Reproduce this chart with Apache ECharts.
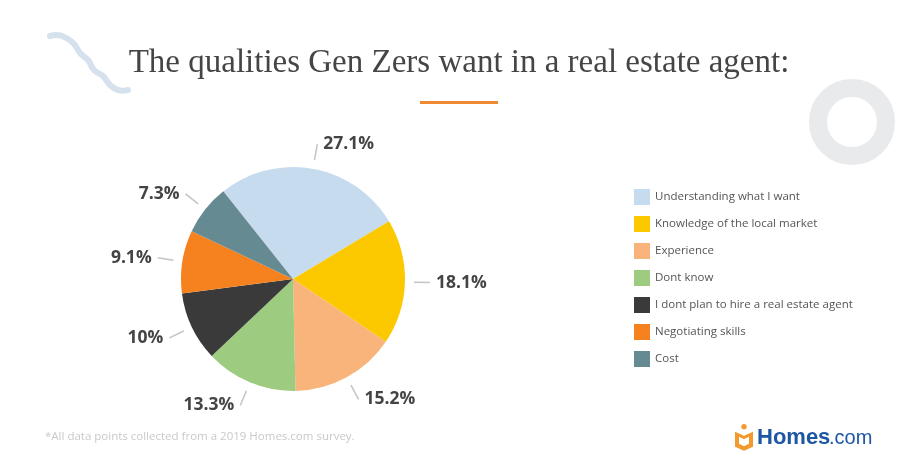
<!DOCTYPE html>
<html>
<head>
<meta charset="utf-8">
<script src="https://cdn.jsdelivr.net/npm/echarts@6/dist/echarts.min.js"></script>
<style>html,body{margin:0;padding:0;background:#fff;}#c{width:918px;height:454px;}</style>
</head>
<body>
<div id="c"></div>
<script>
var categories = ['Understanding what I want','Knowledge of the local market','Experience','Dont know','I dont plan to hire a real estate agent','Negotiating skills','Cost'];
var values = [27.1, 18.1, 15.2, 13.3, 10, 9.1, 7.3];
var colors = ['#c6dcee','#fcc800','#f8b47a','#9dcb80','#3a3a3a','#f5821f','#668a92'];

var chart = echarts.init(document.getElementById('c'));
var data = categories.map(function(n,i){return {name:n, value:values[i], itemStyle:{color:colors[i]}};});
var ghost = categories.map(function(n,i){return {name:n, value:values[i]};});
chart.setOption({
  animation:false,
  backgroundColor:'#ffffff',
  title:{
    text:'The qualities Gen Zers want in a real estate agent:',
    left:'center', top:42,
    textStyle:{fontFamily:'Liberation Serif', fontWeight:'normal', fontSize:33, color:'#454545'}
  },
  legend:{
    orient:'vertical', left:629, top:184, itemWidth:16, itemHeight:16, itemGap:11,
    icon:'rect',
    textStyle:{fontFamily:'Open Sans', fontSize:11.5, color:'#555'},
    data:categories
  },
  graphic:[
    {type:'rect', shape:{x:420,y:101,width:78,height:3}, style:{fill:'#ef8a33'}},
    {type:'circle', shape:{cx:852, cy:122, r:34}, style:{fill:'none', stroke:'#e9eaec', lineWidth:18}},
    {type:'polyline', shape:{smooth:0.5, points:[[50,36],[62,36],[74,44],[80,53],[88,60],[94,70],[103,76],[110,85],[118,90],[128,90]]}, style:{fill:'none', stroke:'#d5e2ed', lineWidth:6, lineCap:'round'}},
    {type:'text', left:45, top:431, style:{text:'*All data points collected from a 2019 Homes.com survey.', fontFamily:'Open Sans', fontSize:11.5, fill:'#c9c9c9'}},
    {type:'group', left:735, top:424, children:[
      {type:'circle', shape:{cx:9, cy:3, r:2.7}, style:{fill:'#f39a2f'}},
      {type:'polygon', shape:{points:[[0,8],[9,12],[18,8],[18,23],[9,27],[0,23]]}, style:{fill:'#f39a2f'}},
      {type:'polygon', shape:{points:[[4,13],[9,15.5],[14,13],[14,20],[9,22.5],[4,20]]}, style:{fill:'#fff'}},
      {type:'text', x:22, y:3, style:{text:'Homes', fontFamily:'Liberation Sans', fontWeight:'bold', fontSize:22, fill:'#1d56a3'}},
      {type:'text', x:94, y:5, style:{text:'.com', fontFamily:'Liberation Sans', fontSize:20, fill:'#1d56a3'}}
    ]}
  ],
  series:[{
    type:'pie',
    center:[293,279],
    radius:112,
    startAngle:128.5,
    clockwise:true,
    data:data,
    itemStyle:{borderWidth:0},
    label:{show:false},
    labelLine:{show:false}
  },{
    type:'pie',
    silent:true,
    center:[293,279],
    radius:121,
    startAngle:128.5,
    clockwise:true,
    data:ghost,
    itemStyle:{color:'rgba(0,0,0,0)', borderWidth:0},
    label:{show:true, position:'outside', formatter:'{c}%', fontFamily:'Open Sans', fontWeight:'bold', fontSize:17.5, color:'#444', distanceToLabelLine:6},
    labelLine:{show:true, length:16, length2:0, lineStyle:{color:'#c4c4c4', width:1.5}}
  }]
});
</script>
</body>
</html>
